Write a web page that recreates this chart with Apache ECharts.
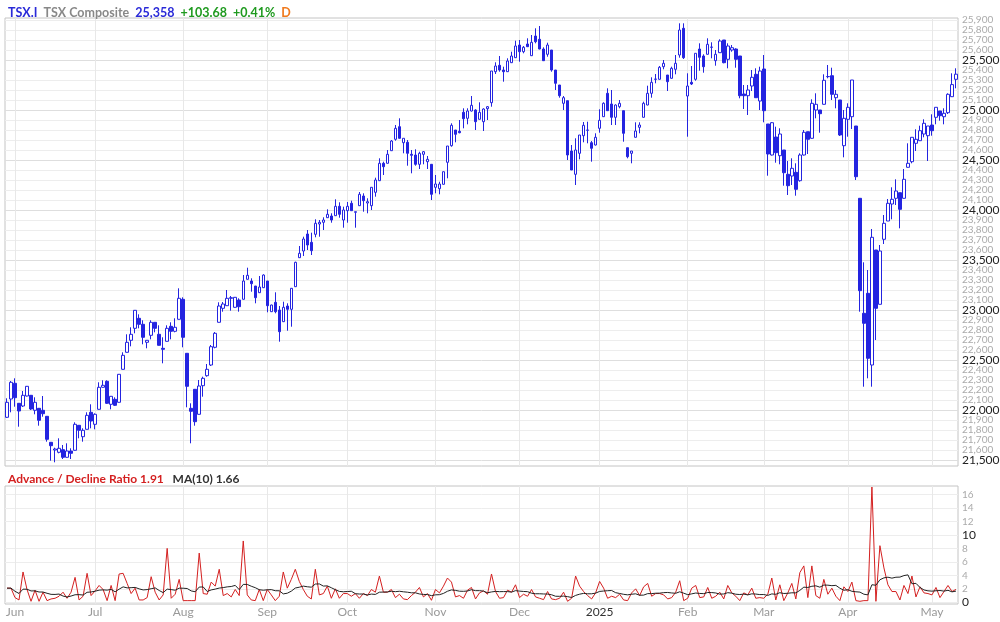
<!DOCTYPE html>
<html><head><meta charset="utf-8">
<script src="https://cdn.jsdelivr.net/npm/echarts/dist/echarts.min.js"></script>
<style>html,body{margin:0;padding:0;background:#fff}#c{width:1000px;height:622px}</style>
</head><body><div id="c"></div>
<script>
// Month labels and number of trading days shown for each month (May 2024 .. May 2025)
const monthLabels = ['May','Jun','Jul','Aug','Sep','Oct','Nov','Dec','2025','Feb','Mar','Apr','May'];
const monthTradingDays = [2,20,22,21,20,22,21,20,22,19,21,21,7];

const open = [21927,22110,22267,22067,22040,22140,22147,21997,22017,21997,21937,21677,21600,21577,21603,21527,21590,21597,21847,21733,21807,21977,21857,22007,22227,22287,22057,22107,22077,22407,22577,22697,22817,22917,22857,22677,22747,22877,22757,22617,22687,22837,22787,22907,23107,22567,22017,22207,21957,22243,22343,22450,22627,22877,23017,23043,23117,23027,23100,23107,23307,23290,23240,23173,23223,23290,22983,23077,23000,22883,23040,23007,23233,23523,23590,23760,23677,23757,23860,23877,23923,23940,23943,24037,23900,23993,24067,23977,24043,24140,24070,24043,24177,24293,24467,24467,24593,24707,24833,24673,24677,24557,24550,24457,24557,24483,24457,24227,24213,24257,24477,24643,24800,24787,24977,24917,24990,25000,24907,24883,25013,25073,25383,25447,25400,25383,25473,25523,25650,25583,25660,25543,25740,25707,25610,25557,25600,25400,25250,25067,25093,24590,24357,24567,24743,24797,24673,24650,24817,24933,25167,25060,24927,25033,24993,24623,24567,24727,24827,24927,25050,25167,25307,25307,25433,25350,25317,25407,25550,25817,25140,25277,25307,25610,25540,25557,25627,25493,25573,25700,25507,25600,25610,25540,25160,25143,25240,25357,25090,25410,24860,24550,24730,24543,24600,24357,24340,24377,24293,24550,24783,24717,25000,25000,25057,25333,25343,25123,25100,24643,24907,24933,24840,24117,22967,23167,22450,23600,23057,23707,23890,24060,24117,24173,24117,24427,24483,24667,24693,24760,24743,24850,24927,24990,24933,24973,25133,25307];
const high = [22117,22290,22317,22070,22190,22240,22150,22127,22020,22140,21940,21680,21623,21717,21650,21667,21617,21877,21850,21817,21977,22057,21967,22277,22297,22297,22140,22127,22360,22577,22757,22827,23000,22957,22897,22700,22897,22880,22847,22727,22847,22877,22917,23217,23127,22570,22067,22210,22300,22333,22460,22650,22780,23077,23080,23200,23140,23130,23117,23350,23423,23317,23240,23340,23357,23290,23053,23177,23040,23083,23067,23220,23483,23640,23733,23800,23773,23907,23900,23927,24007,23967,24107,24077,24033,24080,24093,23983,24180,24167,24117,24230,24323,24517,24483,24600,24700,24850,24917,24717,24700,24600,24607,24583,24590,24540,24460,24350,24283,24383,24640,24867,24800,24900,25017,25017,25140,25007,25077,25017,25040,25390,25477,25540,25433,25517,25583,25693,25700,25640,25717,25750,25817,25840,25627,25673,25600,25400,25250,25140,25093,24650,24717,24750,24880,24883,24690,24767,25007,25077,25217,25200,25057,25100,24993,24623,24590,24877,24877,25083,25243,25327,25360,25440,25500,25350,25433,25550,25867,25867,25367,25440,25567,25667,25557,25717,25677,25600,25707,25700,25667,25650,25617,25540,25250,25250,25400,25417,25433,25550,24860,24880,24833,24817,24600,24490,24517,24467,24567,24800,24783,25107,25167,25000,25357,25450,25423,25200,25100,25000,25067,25300,24840,24117,23477,23400,23810,23600,23650,23950,24110,24227,24307,24173,24410,24667,24727,24807,24843,24907,24840,24957,25027,24990,25017,25167,25367,25417];
const low = [21920,21977,22033,21833,22030,22135,22000,21957,21843,21933,21683,21493,21477,21567,21510,21523,21510,21595,21717,21683,21805,21817,21807,22005,22225,22060,22007,22040,22075,22405,22575,22637,22767,22817,22657,22617,22707,22777,22645,22467,22685,22707,22777,22905,22627,22027,21667,21843,21955,22133,22333,22440,22617,22875,22983,23040,22993,23025,22983,23105,23305,23183,23067,23170,23220,22977,22980,22967,22683,22880,22793,22833,23230,23520,23540,23600,23550,23727,23733,23800,23920,23873,23940,23923,23823,23873,23990,23823,24040,23983,23967,24000,24133,24290,24350,24465,24590,24693,24715,24567,24443,24367,24443,24410,24457,24410,24100,24167,24157,24255,24317,24633,24677,24767,24817,24857,24985,24800,24905,24790,24900,25033,25360,25383,25283,25380,25470,25520,25483,25567,25630,25540,25667,25607,25490,25533,25383,25200,25123,25000,24500,24400,24250,24507,24677,24667,24483,24645,24773,24930,24990,24850,24850,25017,24683,24517,24467,24725,24767,24925,25047,25123,25267,25305,25407,25190,25315,25357,25523,25510,24733,25250,25293,25393,25373,25555,25517,25443,25570,25467,25417,25583,25423,25117,25010,24950,25190,25123,25000,24877,24343,24545,24473,24457,24243,24150,24250,24143,24283,24545,24560,24713,24917,24773,25055,25317,25100,25017,24740,24527,24733,24810,24300,22983,22233,22317,22233,22700,23057,23660,23890,23907,24050,23817,24115,24425,24467,24590,24690,24727,24490,24743,24857,24893,24857,24960,25130,25217];
const close = [22077,22277,22123,21990,22147,22237,22010,22077,21897,21963,21707,21643,21610,21617,21527,21590,21567,21857,21797,21797,21947,21890,21957,22227,22247,22067,22137,22047,22357,22547,22677,22757,22997,22857,22727,22697,22877,22817,22647,22607,22817,22787,22827,23117,22727,22237,21987,21883,22240,22317,22407,22633,22767,23040,23060,23117,23123,23127,23033,23290,23347,23263,23123,23230,23350,23043,23050,22983,22783,23027,23007,23217,23477,23567,23710,23650,23593,23867,23877,23900,23957,23900,24037,23957,24000,24037,23993,23983,24157,24093,24083,24227,24300,24467,24433,24557,24690,24817,24717,24717,24567,24547,24457,24567,24583,24507,24157,24260,24260,24383,24640,24847,24757,24773,24913,24990,25047,24883,24977,25010,25033,25390,25440,25400,25383,25490,25540,25640,25583,25627,25633,25677,25683,25610,25493,25650,25400,25267,25143,25123,24550,24400,24600,24750,24847,24800,24617,24727,24897,25067,24993,24927,25050,25067,24767,24533,24590,24790,24850,25067,25167,25277,25310,25427,25467,25283,25417,25467,25800,25523,25240,25260,25567,25527,25433,25657,25630,25557,25690,25473,25640,25623,25507,25143,25143,25200,25327,25123,25390,24993,24560,24873,24573,24760,24373,24243,24417,24207,24550,24777,24707,25067,25057,24963,25297,25335,25157,25157,24750,24917,25027,25300,24333,23193,22867,22517,23727,23017,23590,23867,24067,24107,24190,24007,24307,24467,24727,24707,24793,24867,24840,24793,25027,24943,24967,25157,25254,25358];

const adRatio = [2.1,2.1,0.7,0.35,4.5,1.9,0.15,1.8,0.15,1.5, 0.25,0.5,0.6,0.9,1.5,0.6,1.5,3.7,0.35,0.9, 4.3,1.0,1.7,2.5,1.9,0.25,2.5,0.25,4.2,4.3, 2.8,1.3,2.1,0.35,0.35,0.7,3.8,1.5,0.35,1.1, 8.0,0.6,1.2,3.4,0.25,0.25,0.25,0.25,7.3,1.3, 1.2,3.0,2.4,4.9,1.0,1.3,0.8,1.9,1.0,9.1, 1.1,0.35,0.25,1.9,0.25,1.9,1.1,0.25,0.9,4.5, 2.1,3.4,4.9,3.1,1.9,0.9,0.5,4.9,1.1,1.3, 2.4,0.6,2.0,0.6,1.3,1.3,0.9,1.3,0.6,1.3, 1.0,1.9,1.5,3.9,1.5,1.5,1.9,0.7,
  1.2,0.5,0.4,1.0,1.5,2.2,0.8,1.3,0.3,1.9, 1.4,2.4,3.6,3.0,0.8,1.0,0.6,1.8,2.2,0.5, 1.4,1.7,1.2,4.2,1.6,0.6,0.7,1.8,1.5,2.6, 0.7,1.2,0.9,1.9,0.8,0.6,0.4,1.6,0.5,0.4, 0.6,1.5,0.15,0.6,3.9,2.4,1.6,1.0,0.5,1.4,
  3.1,2.1,0.6,0.9,0.7,1.2,0.35,0.25,1.4,2.0, 1.0,2.3,2.8,0.9,1.3,1.3,1.1,0.5,0.7,1.5, 3.2,0.25,0.6,2.1,2.5,0.7,0.8,2.2,0.6,0.9, 1.5,0.5,2.5,1.4,0.9,0.25,1.4,1.1,2.1,0.6, 0.7,0.6,1.2,3.6,0.35,2.6,0.25,1.4,2.8,0.5, 4.4,5.4,0.7,5.4,1.0,0.6,3.4,1.2,2.1,0.9, 0.25,2.3,1.6,3.0,0.25,0.15,0.25,0.25,17.1,0.15, 8.4,5.1,2.6,1.6,1.6,0.35,2.5,1.3,3.9,0.8, 2.3,1.4,1.3,1.1,2.2,0.7,1.6,2.5,1.6,1.91];

// axis settings
const priceMin = 21440, priceMax = 25920, priceStep = 20;
const adMin = -0.25, adMax = 17.25, adStep = 0.25;

// ---- derived structures ----
const categories = [];
const monthStart = new Set();
monthLabels.forEach((m, mi) => {
  for (let k = 0; k < monthTradingDays[mi]; k++) {
    if (k === 0 && mi > 0) monthStart.add(categories.length);
    categories.push(m + '|' + mi + '|' + k);
  }
});
const candleData = open.map((o, i) => [o, close[i], low[i], high[i]]);
// 10-period simple moving average of the advance/decline ratio (as the chart's MA(10))
const ma10 = adRatio.map((_, i) => {
  const w = adRatio.slice(Math.max(0, i - 9), i + 1);
  return +(w.reduce((a, b) => a + b, 0) / w.length).toFixed(3);
});

const fmt = v => Math.round(v).toLocaleString('en-US');
const priceGridColors = [];
for (let k = 0; k < 500 / priceStep; k++) {
  const v = Math.round(priceMin + k * priceStep);
  priceGridColors.push(v % 500 === 0 ? '#dedede' : (v % 100 === 0 ? '#ededed' : 'rgba(0,0,0,0)'));
}
const adGridColors = [];
for (let k = 0; k < 2 / adStep; k++) {
  const v = adMin + k * adStep;
  const r = Math.round(v);
  adGridColors.push(Math.abs(v - r) < 1e-6 && r % 2 === 0 ? '#ededed' : 'rgba(0,0,0,0)');
}

const BLUE = '#2424e0';
const FONT = 'Lato';
const monthInterval = (idx) => monthStart.has(idx);

const xCommon = {
  type: 'category', data: categories, boundaryGap: true,
  axisLine: {show: false}, axisTick: {show: false},
  splitLine: {show: true, alignWithLabel: true, interval: monthInterval, lineStyle: {color: '#e8e8e8', width: 1}}
};

const chart = echarts.init(document.getElementById('c'), null, {renderer: 'canvas'});
chart.setOption({
  animation: false,
  backgroundColor: '#ffffff',
  textStyle: {fontFamily: FONT},
  title: [
    {
      left: 3, top: 1,
      text: '{a|TSX.I}  {b|TSX Composite}  {a|25,358}  {g|+103.68}  {g|+0.41%}  {o|D}',
      textStyle: {
        fontFamily: FONT, fontSize: 12.5,
        rich: {
          a: {color: '#2a2ad8', fontSize: 12.5, fontFamily: FONT},
          b: {color: '#888888', fontSize: 12.5, fontFamily: FONT},
          g: {color: '#1f9a1f', fontSize: 12.5, fontFamily: FONT},
          o: {color: '#f07a1e', fontSize: 12.5, fontFamily: FONT}
        }
      }
    },
    {
      left: 3, top: 468,
      text: '{r|Advance / Decline Ratio 1.91}   {k|MA(10) 1.66}',
      textStyle: {
        fontFamily: FONT, fontSize: 12,
        rich: {
          r: {color: '#d42020', fontSize: 12, fontFamily: FONT},
          k: {color: '#333333', fontSize: 12, fontFamily: FONT}
        }
      }
    }
  ],
  grid: [
    {left: 5, right: 42, top: 18, height: 448, show: true, borderColor: '#c4c4c4', borderWidth: 1, backgroundColor: 'transparent', containLabel: false, outerBoundsMode: 'none'},
    {left: 5, right: 42, top: 486, height: 118, show: true, borderColor: '#c4c4c4', borderWidth: 1, backgroundColor: 'transparent', containLabel: false, outerBoundsMode: 'none'}
  ],
  xAxis: [
    Object.assign({}, xCommon, {gridIndex: 0, axisLabel: {show: false}}),
    Object.assign({}, xCommon, {
      gridIndex: 1,
      axisLabel: {
        show: true, interval: monthInterval, margin: 2,
        fontFamily: FONT, fontSize: 12,
        color: (v) => (String(v).startsWith('2025') ? '#333333' : '#999999'),
        formatter: (v) => String(v).split('|')[0]
      }
    })
  ],
  yAxis: [
    {
      type: 'value', gridIndex: 0, position: 'right',
      min: priceMin, max: priceMax, interval: priceStep,
      axisLine: {show: false}, axisTick: {show: false},
      splitLine: {show: true, lineStyle: {color: priceGridColors, width: 1}},
      axisLabel: {
        show: true, margin: 4, align: 'left', showMinLabel: true, showMaxLabel: true,
        formatter: (v) => {
          const r = Math.round(v);
          if (r % 100 !== 0) return '';
          return r % 500 === 0 ? '{M|' + fmt(r) + '}' : '{m|' + fmt(r) + '}';
        },
        rich: {
          M: {color: '#222222', fontSize: 12, fontFamily: FONT},
          m: {color: '#ababab', fontSize: 10, fontFamily: FONT}
        }
      }
    },
    {
      type: 'value', gridIndex: 1, position: 'right',
      min: adMin, max: adMax, interval: adStep,
      axisLine: {show: false}, axisTick: {show: false},
      splitLine: {show: true, lineStyle: {color: adGridColors, width: 1}},
      axisLabel: {
        show: true, margin: 4, align: 'left',
        formatter: (v) => {
          const r = Math.round(v);
          if (Math.abs(v - r) > 1e-6 || r % 2 !== 0 || r < 0) return '';
          return (r % 10 === 0) ? '{M|' + r + '}' : '{m|' + r + '}';
        },
        rich: {
          M: {color: '#222222', fontSize: 12, fontFamily: FONT},
          m: {color: '#ababab', fontSize: 10, fontFamily: FONT}
        }
      }
    }
  ],
  series: [
    {
      type: 'candlestick', xAxisIndex: 0, yAxisIndex: 0,
      data: candleData, barWidth: 3,
      itemStyle: {color: '#ffffff', color0: BLUE, borderColor: BLUE, borderColor0: BLUE, borderColorDoji: BLUE, borderWidth: 1}
    },
    {
      type: 'line', xAxisIndex: 1, yAxisIndex: 1, data: adRatio,
      symbol: 'none', lineStyle: {color: '#d42020', width: 1}, itemStyle: {color: '#d42020'}
    },
    {
      type: 'line', xAxisIndex: 1, yAxisIndex: 1, data: ma10,
      symbol: 'none', lineStyle: {color: '#222222', width: 1}, itemStyle: {color: '#222222'}
    }
  ]
});
</script></body></html>
